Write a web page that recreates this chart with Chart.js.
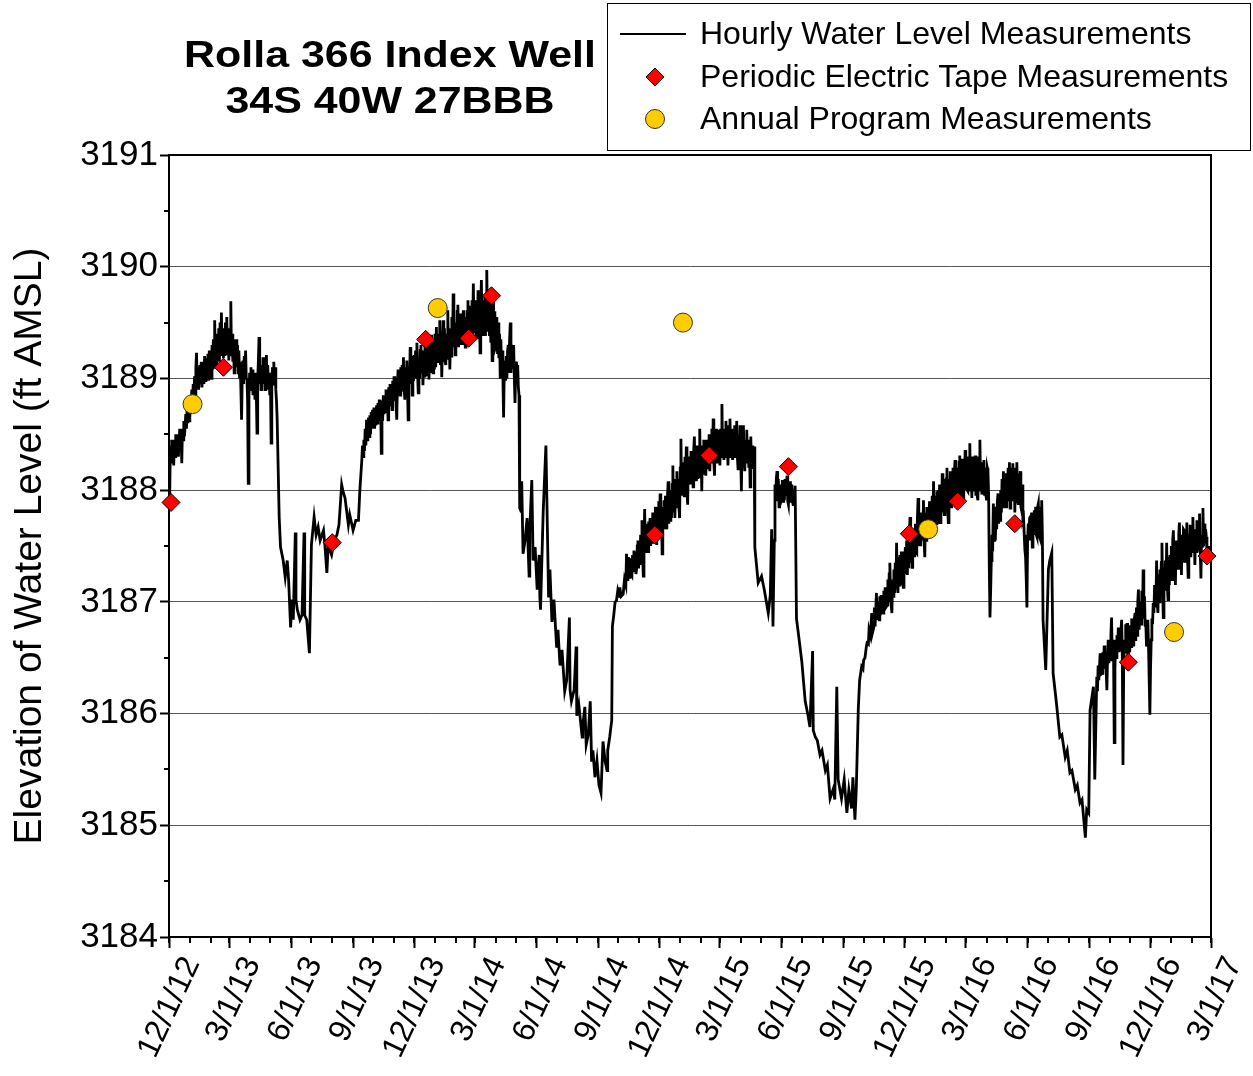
<!DOCTYPE html>
<html>
<head>
<meta charset="utf-8">
<title>Rolla 366 Index Well</title>
<script src="https://cdn.jsdelivr.net/npm/chart.js@4.4.1/dist/chart.umd.min.js"></script>
<style>
  html, body { margin: 0; padding: 0; background: #fff; }
  canvas { display: block; }
</style>
</head>
<body>
<canvas id="wellChart" width="1253" height="1076"></canvas>
<script>
const FONT = "'Liberation Sans', Arial, Helvetica, sans-serif";

const titleLines = ['Rolla 366 Index Well', '34S 40W 27BBB'];

// quarterly labels on the date axis
const tickLabels = [
  '12/1/12', '3/1/13', '6/1/13', '9/1/13', '12/1/13', '3/1/14', '6/1/14', '9/1/14',
  '12/1/14', '3/1/15', '6/1/15', '9/1/15', '12/1/15', '3/1/16', '6/1/16', '9/1/16',
  '12/1/16', '3/1/17'
];

// hourly logger record, thinned: [days since 12/1/12, level ft]
const hourlyRecord = [
  // winter 2012-13
  [1, 3187.91], [2, 3188.40], [3, 3188.25], [4, 3188.45], [5, 3188.28], [6, 3188.40], [7, 3188.22], [8, 3188.45],
  [9, 3188.30], [10, 3188.50], [12, 3188.32], [13, 3188.50], [14, 3188.30], [16, 3188.55], [17, 3188.38], [18, 3188.55],
  [19, 3188.24], [20, 3188.55], [21, 3188.45], [22, 3188.62], [23, 3188.48], [25, 3188.68], [26, 3188.55], [27, 3188.75],
  [28, 3188.60], [29, 3188.78], [30, 3188.62], [31, 3188.82], [32, 3188.68], [34, 3188.90], [35, 3188.75], [36, 3188.95],
  [37, 3188.80], [38, 3189.02], [39, 3188.85], [40, 3189.10], [41, 3189.23], [42, 3188.92], [43, 3189.10], [44, 3188.90],
  [46, 3189.12], [47, 3188.95], [48, 3189.15], [49, 3188.92], [51, 3189.10], [52, 3188.95], [53, 3189.20], [54, 3188.98],
  [55, 3189.18], [56, 3189.00], [58, 3189.22], [59, 3188.98], [60, 3189.25], [61, 3189.05], [62, 3189.22], [63, 3189.00],
  [64, 3189.30], [65, 3189.08], [66, 3189.35], [67, 3189.10], [68, 3189.52], [69, 3189.15], [70, 3189.40], [71, 3189.10],
  [72, 3189.40], [73, 3189.18], [74, 3189.45], [75, 3189.15], [76, 3189.50], [77, 3189.20], [78, 3189.59], [79, 3189.22],
  [80, 3189.45], [81, 3189.18], [82, 3189.42], [83, 3189.20], [84, 3189.50], [85, 3189.22], [86, 3189.55], [87, 3189.25],
  [88, 3189.45], [89, 3189.16], [90, 3189.45], [91, 3189.25], [92, 3189.69], [93, 3189.20], [94, 3189.40], [95, 3189.15],
  [96, 3189.35], [97, 3189.05], [98, 3189.30], [99, 3189.10], [100, 3189.35], [101, 3189.20], [102, 3189.30], [103, 3189.05],
  [104, 3189.25], [105, 3189.00], [106, 3189.15], [107, 3188.90], [108, 3188.63], [109, 3189.00], [110, 3189.16], [111, 3188.95],
  [112, 3189.20], [113, 3189.00], [114, 3189.25], [115, 3189.00], [116, 3188.99], [117, 3188.80], [118, 3188.06], [119, 3188.85],
  [120, 3189.05], [121, 3188.90], [122, 3189.10], [123, 3188.90], [124, 3189.08], [125, 3188.85], [127, 3189.00], [128, 3188.81],
  [129, 3189.05], [130, 3188.85], [131, 3188.51], [132, 3188.99], [133, 3189.15], [134, 3189.37], [135, 3188.95], [136, 3189.10],
  [137, 3188.90], [138, 3189.12], [139, 3188.95], [140, 3189.19], [141, 3188.95], [142, 3189.10], [143, 3188.90], [144, 3189.10],
  [145, 3189.21], [146, 3188.95], [147, 3189.12], [148, 3188.90], [149, 3189.05], [150, 3188.85], [151, 3189.00], [152, 3188.42],
  [153, 3188.95], [154, 3189.10], [155, 3188.95], [156, 3189.15], [157, 3188.95], [158, 3189.10], [159, 3188.90], [160, 3188.80],
  [161, 3188.63],
  // summer 2013
  [164, 3187.76], [166, 3187.49], [170, 3187.37], [173, 3187.22], [176, 3187.37], [178, 3187.20], [181, 3186.77], [183, 3187.02],
  [185, 3186.84], [188, 3187.62], [189, 3187.02], [191, 3186.93], [195, 3186.84], [198, 3186.88], [201, 3187.62], [202, 3186.88],
  [205, 3186.84], [209, 3186.54], [212, 3187.51], [216, 3187.76], [219, 3187.60], [222, 3187.67], [225, 3187.55], [230, 3187.64],
  [232, 3187.51], [235, 3187.26], [237, 3187.51], [242, 3187.42], [246, 3187.55], [250, 3187.60], [253, 3187.69], [257, 3188.05],
  [259, 3187.99], [262, 3187.93], [267, 3187.69], [269, 3187.78], [274, 3187.64], [278, 3187.73], [282, 3187.73], [284, 3187.99],
  // winter 2013-14
  [287, 3188.27], [288, 3188.40], [289, 3188.30], [290, 3188.45], [291, 3188.35], [292, 3188.55], [293, 3188.40], [294, 3188.63],
  [295, 3188.45], [296, 3188.51], [297, 3188.65], [298, 3188.48], [299, 3188.67], [300, 3188.50], [301, 3188.70], [302, 3188.55],
  [303, 3188.72], [304, 3188.60], [305, 3188.74], [306, 3188.55], [307, 3188.70], [308, 3188.58], [309, 3188.76], [310, 3188.60],
  [311, 3188.78], [312, 3188.62], [313, 3188.81], [314, 3188.65], [315, 3188.80], [316, 3188.33], [317, 3188.75], [318, 3188.62],
  [319, 3188.85], [320, 3188.68], [321, 3188.85], [322, 3188.70], [323, 3188.90], [324, 3188.72], [325, 3188.88], [326, 3188.63],
  [327, 3188.92], [328, 3188.75], [329, 3188.95], [330, 3188.78], [331, 3188.92], [332, 3188.72], [333, 3188.98], [334, 3188.80],
  [335, 3189.02], [336, 3188.82], [337, 3189.00], [338, 3188.78], [339, 3188.63], [340, 3188.95], [341, 3189.08], [342, 3188.85],
  [343, 3189.05], [344, 3188.85], [345, 3189.10], [346, 3188.88], [347, 3189.12], [348, 3188.90], [349, 3189.19], [350, 3188.92],
  [351, 3188.81], [352, 3189.10], [353, 3188.95], [354, 3189.16], [355, 3188.92], [356, 3188.63], [357, 3189.05], [358, 3188.95],
  [359, 3189.28], [360, 3188.98], [361, 3189.20], [362, 3188.85], [363, 3189.15], [364, 3188.98], [365, 3189.21], [366, 3189.00],
  [367, 3189.25], [368, 3189.02], [369, 3189.32], [370, 3189.05], [371, 3188.87], [372, 3189.15], [373, 3189.00], [374, 3189.25],
  [375, 3189.30], [376, 3189.05], [377, 3189.25], [378, 3188.94], [379, 3189.20], [380, 3189.02], [381, 3189.30], [382, 3189.05],
  [383, 3189.28], [384, 3189.34], [385, 3189.02], [386, 3189.30], [387, 3188.99], [388, 3189.25], [389, 3189.05], [390, 3189.39],
  [391, 3189.05], [392, 3189.30], [393, 3189.05], [394, 3189.35], [395, 3189.08], [396, 3189.40], [397, 3189.10], [398, 3189.46],
  [399, 3189.15], [400, 3189.16], [401, 3189.40], [402, 3189.15], [403, 3189.52], [404, 3189.12], [405, 3189.35], [406, 3189.01],
  [407, 3189.30], [408, 3189.52], [409, 3189.15], [410, 3189.45], [411, 3189.15], [412, 3189.12], [413, 3189.40], [414, 3189.18],
  [415, 3189.61], [416, 3189.22], [417, 3189.45], [418, 3189.08], [419, 3189.40], [420, 3189.20], [421, 3189.55], [422, 3189.28],
  [423, 3189.76], [424, 3189.28], [425, 3189.50], [426, 3189.21], [427, 3189.50], [428, 3189.28], [429, 3189.60], [430, 3189.66],
  [431, 3189.28], [432, 3189.55], [433, 3189.30], [434, 3189.58], [435, 3189.32], [436, 3189.55], [437, 3189.30], [438, 3189.61],
  [439, 3189.32], [440, 3189.50], [441, 3189.28], [442, 3189.55], [443, 3189.32], [444, 3189.60], [445, 3189.70], [446, 3189.35],
  [447, 3189.60], [448, 3189.39], [449, 3189.65], [450, 3189.38], [451, 3189.70], [452, 3189.40], [453, 3189.85], [454, 3189.42],
  [455, 3189.46], [456, 3189.70], [457, 3189.38], [458, 3189.65], [459, 3189.35], [460, 3189.79], [461, 3189.38], [462, 3189.60],
  [463, 3189.23], [464, 3189.65], [465, 3189.88], [466, 3189.42], [467, 3189.70], [468, 3189.38], [469, 3189.52], [470, 3189.75],
  [471, 3189.38], [472, 3189.70], [473, 3189.97], [474, 3189.48], [475, 3189.43], [476, 3189.70], [477, 3189.38], [478, 3189.76],
  [479, 3189.32], [480, 3189.60], [481, 3189.16], [482, 3189.55], [483, 3189.70], [484, 3189.32], [485, 3189.60], [486, 3189.28],
  [487, 3189.30], [488, 3189.55], [489, 3189.22], [490, 3189.50], [491, 3189.18], [492, 3189.40], [493, 3189.01], [494, 3189.35],
  [495, 3189.08], [496, 3189.25], [497, 3189.02], [498, 3188.65], [499, 3189.05], [500, 3189.16], [501, 3188.98], [502, 3189.20],
  [503, 3189.00], [504, 3189.25], [505, 3189.30], [506, 3189.05], [507, 3189.35], [508, 3189.50], [509, 3189.05], [510, 3189.30],
  [511, 3189.10], [512, 3189.25], [513, 3189.30], [514, 3189.00], [515, 3188.78], [516, 3189.05], [517, 3189.15], [518, 3189.08],
  [519, 3189.12], [520, 3188.92], [521, 3188.85], [522, 3187.84],
  // summer 2014
  [524, 3187.81], [525, 3188.08], [527, 3187.43], [530, 3187.55], [533, 3187.75], [536, 3187.23], [537, 3187.64], [540, 3188.09],
  [542, 3187.37], [545, 3187.49], [548, 3187.11], [551, 3187.42], [552, 3187.04], [553, 3186.93], [557, 3187.81], [561, 3188.40],
  [563, 3187.73], [565, 3187.04], [567, 3187.29], [570, 3186.82], [573, 3187.02], [577, 3186.59], [579, 3186.75], [582, 3186.43],
  [585, 3186.57], [589, 3186.20], [592, 3186.30], [596, 3186.86], [597, 3186.21], [599, 3186.11], [603, 3186.21], [606, 3186.60],
  [607, 3185.98], [610, 3186.08], [615, 3185.79], [616, 3185.90], [619, 3186.06], [621, 3185.72], [624, 3185.81], [627, 3186.11],
  [629, 3185.57], [631, 3185.67], [634, 3185.43], [637, 3185.58], [640, 3185.36], [643, 3185.29], [646, 3185.75], [649, 3185.58],
  [652, 3185.49], [653, 3185.67], [656, 3185.79], [659, 3185.94],
  // winter 2014-15
  [660, 3186.78], [662, 3186.88], [664, 3187.00], [666, 3187.01], [668, 3187.10], [670, 3187.05], [671, 3187.13], [673, 3187.05],
  [676, 3187.07], [678, 3187.20], [680, 3187.15], [681, 3187.43], [682, 3187.20], [683, 3187.29], [684, 3187.40], [685, 3187.22],
  [686, 3187.39], [687, 3187.25], [689, 3187.23], [690, 3187.42], [691, 3187.28], [692, 3187.46], [693, 3187.30], [694, 3187.45],
  [695, 3187.25], [696, 3187.29], [697, 3187.50], [698, 3187.55], [699, 3187.30], [700, 3187.50], [701, 3187.33], [702, 3187.60],
  [703, 3187.38], [704, 3187.73], [705, 3187.40], [706, 3187.23], [707, 3187.55], [708, 3187.83], [709, 3187.45], [710, 3187.70],
  [711, 3187.46], [712, 3187.68], [713, 3187.45], [714, 3187.72], [715, 3187.50], [716, 3187.75], [717, 3187.50], [718, 3187.70],
  [719, 3187.55], [720, 3187.80], [721, 3187.52], [722, 3187.75], [723, 3187.55], [724, 3187.85], [725, 3187.55], [726, 3187.51],
  [727, 3187.85], [728, 3187.60], [729, 3187.90], [730, 3187.62], [731, 3187.97], [732, 3187.60], [733, 3187.85], [734, 3187.43],
  [735, 3187.80], [736, 3187.65], [737, 3187.91], [738, 3187.65], [739, 3187.95], [740, 3187.68], [741, 3187.65], [742, 3187.95],
  [743, 3188.08], [744, 3187.70], [745, 3187.95], [746, 3187.73], [747, 3188.00], [748, 3187.75], [749, 3188.05], [750, 3188.22],
  [751, 3187.80], [752, 3188.05], [753, 3187.75], [754, 3188.10], [755, 3187.85], [756, 3188.17], [757, 3187.85], [758, 3188.10],
  [759, 3187.85], [760, 3187.75], [761, 3188.20], [762, 3188.46], [763, 3187.95], [764, 3188.25], [765, 3187.99], [766, 3188.25],
  [767, 3187.95], [768, 3188.30], [769, 3188.00], [770, 3188.39], [771, 3188.00], [772, 3187.87], [773, 3188.30], [774, 3188.05],
  [775, 3188.27], [776, 3188.05], [777, 3188.35], [778, 3188.05], [779, 3188.30], [780, 3188.03], [781, 3188.35], [782, 3188.48],
  [783, 3188.10], [784, 3188.35], [785, 3188.08], [786, 3188.40], [787, 3188.10], [788, 3188.40], [789, 3188.12], [790, 3188.55],
  [791, 3188.15], [792, 3188.40], [793, 3187.99], [794, 3188.35], [795, 3188.15], [796, 3188.45], [797, 3188.15], [798, 3188.40],
  [799, 3188.13], [800, 3188.45], [801, 3188.20], [802, 3188.45], [803, 3188.20], [804, 3188.50], [805, 3188.17], [806, 3188.50],
  [807, 3188.25], [808, 3188.55], [809, 3188.25], [810, 3188.64], [811, 3188.25], [812, 3188.13], [813, 3188.50], [814, 3188.28],
  [815, 3188.55], [816, 3188.25], [817, 3188.54], [818, 3188.30], [819, 3188.50], [820, 3188.22], [821, 3188.55], [822, 3188.30],
  [823, 3188.77], [824, 3188.35], [825, 3188.55], [826, 3188.27], [827, 3188.55], [828, 3188.30], [829, 3188.62], [830, 3188.30],
  [831, 3188.58], [832, 3188.22], [833, 3188.55], [834, 3188.30], [835, 3188.64], [836, 3188.30], [837, 3188.55], [838, 3188.35],
  [839, 3188.27], [840, 3188.55], [841, 3188.30], [842, 3188.58], [843, 3188.32], [844, 3188.50], [845, 3188.62], [846, 3188.30],
  [847, 3188.19], [848, 3188.50], [849, 3188.30], [850, 3188.58], [851, 3188.30], [852, 3187.99], [853, 3188.45], [854, 3188.30],
  [855, 3188.58], [856, 3188.30], [857, 3188.17], [858, 3188.45], [859, 3188.25], [860, 3188.54], [861, 3188.25], [862, 3188.45],
  [863, 3188.20], [864, 3188.40], [865, 3188.03], [866, 3188.48], [867, 3188.20], [868, 3188.40], [869, 3188.25], [870, 3188.19],
  [871, 3188.39], [872, 3187.49],
  // summer 2015
  [877, 3187.17], [882, 3187.23], [886, 3187.11], [890, 3186.97], [892, 3186.90], [895, 3187.06], [897, 3187.65], [899, 3186.78],
  [901, 3187.55], [902, 3188.05], [903, 3187.90], [904, 3188.10], [905, 3188.17], [906, 3187.90], [907, 3188.10], [908, 3187.85],
  [909, 3188.05], [910, 3187.87], [911, 3188.05], [912, 3187.90], [913, 3188.09], [914, 3187.90], [915, 3188.05], [916, 3187.91],
  [917, 3188.10], [918, 3187.95], [919, 3188.05], [920, 3188.13], [921, 3187.90], [922, 3187.87], [923, 3188.05], [924, 3187.90],
  [925, 3188.08], [926, 3187.90], [927, 3188.05], [928, 3187.90], [929, 3187.87], [930, 3188.00], [931, 3187.90], [932, 3188.04],
  [934, 3186.85], [938, 3186.66], [942, 3186.46], [947, 3186.11], [951, 3185.99], [954, 3185.88], [958, 3186.56], [959, 3185.85],
  [962, 3185.79], [965, 3185.76], [969, 3185.63], [972, 3185.67], [977, 3185.49], [980, 3185.54], [984, 3185.24], [989, 3185.33],
  [991, 3185.23], [994, 3186.24], [996, 3185.41], [1001, 3185.24], [1005, 3185.41], [1009, 3185.11], [1012, 3185.32], [1016, 3185.15],
  [1018, 3185.43], [1021, 3185.05], [1023, 3185.32],
  // winter 2015-16
  [1026, 3186.04], [1028, 3186.30], [1031, 3186.42], [1033, 3186.40], [1034, 3186.48], [1036, 3186.50], [1038, 3186.60], [1039, 3186.63],
  [1041, 3186.62], [1042, 3186.75], [1044, 3186.70], [1046, 3186.90], [1047, 3186.72], [1049, 3186.77], [1050, 3186.95], [1051, 3186.78],
  [1053, 3187.08], [1054, 3186.85], [1055, 3187.00], [1057, 3186.84], [1058, 3187.05], [1059, 3186.88], [1060, 3187.06], [1061, 3186.92],
  [1063, 3186.90], [1064, 3187.10], [1065, 3186.95], [1066, 3187.13], [1067, 3186.95], [1069, 3186.97], [1070, 3187.20], [1071, 3187.00],
  [1072, 3187.25], [1073, 3187.35], [1074, 3187.05], [1076, 3186.90], [1077, 3187.20], [1078, 3187.05], [1079, 3187.29], [1080, 3187.08],
  [1081, 3187.35], [1082, 3187.12], [1083, 3187.53], [1084, 3187.15], [1085, 3187.08], [1086, 3187.40], [1087, 3187.15], [1088, 3187.42],
  [1089, 3187.15], [1090, 3187.45], [1091, 3187.20], [1092, 3187.40], [1093, 3187.13], [1094, 3187.45], [1095, 3187.25], [1096, 3187.49],
  [1097, 3187.25], [1098, 3187.55], [1099, 3187.24], [1100, 3187.55], [1101, 3187.30], [1102, 3187.60], [1103, 3187.76], [1104, 3187.35],
  [1105, 3187.60], [1106, 3187.31], [1107, 3187.60], [1108, 3187.40], [1109, 3187.64], [1110, 3187.40], [1111, 3187.70], [1112, 3187.45],
  [1113, 3187.44], [1114, 3187.75], [1115, 3187.93], [1116, 3187.50], [1117, 3187.75], [1118, 3187.51], [1119, 3187.80], [1120, 3187.55],
  [1121, 3187.80], [1122, 3187.55], [1123, 3187.91], [1124, 3187.55], [1125, 3187.40], [1126, 3187.80], [1127, 3187.55], [1128, 3187.85],
  [1129, 3187.60], [1130, 3187.82], [1131, 3187.62], [1132, 3187.90], [1133, 3187.60], [1134, 3187.90], [1135, 3187.65], [1136, 3187.95],
  [1137, 3187.65], [1138, 3188.08], [1139, 3187.70], [1140, 3187.62], [1141, 3187.95], [1142, 3187.70], [1143, 3187.99], [1144, 3187.70],
  [1145, 3188.00], [1146, 3187.75], [1147, 3188.05], [1148, 3187.71], [1149, 3188.05], [1150, 3187.80], [1151, 3188.15], [1152, 3187.80],
  [1153, 3188.05], [1154, 3187.78], [1155, 3188.10], [1156, 3187.80], [1157, 3188.10], [1158, 3188.20], [1159, 3187.85], [1160, 3187.71],
  [1161, 3188.10], [1162, 3187.85], [1163, 3188.17], [1164, 3187.85], [1165, 3188.15], [1166, 3187.90], [1167, 3188.20], [1168, 3187.91],
  [1169, 3188.15], [1170, 3188.27], [1171, 3187.90], [1172, 3188.20], [1173, 3187.92], [1174, 3188.20], [1175, 3187.96], [1176, 3188.25],
  [1177, 3188.31], [1178, 3187.95], [1179, 3188.25], [1180, 3187.95], [1181, 3188.28], [1182, 3187.91], [1183, 3188.25], [1184, 3188.00],
  [1185, 3188.36], [1186, 3188.00], [1187, 3188.30], [1188, 3188.00], [1189, 3187.99], [1190, 3188.30], [1191, 3188.00], [1192, 3188.42],
  [1193, 3188.00], [1194, 3188.25], [1195, 3187.93], [1196, 3188.30], [1197, 3188.00], [1198, 3188.25], [1199, 3188.00], [1200, 3188.31],
  [1201, 3187.95], [1202, 3188.25], [1203, 3187.95], [1204, 3187.91], [1205, 3188.30], [1206, 3188.00], [1207, 3188.45], [1208, 3188.00],
  [1209, 3188.25], [1210, 3187.96], [1211, 3188.25], [1212, 3188.00], [1213, 3188.27], [1214, 3187.95], [1215, 3188.20], [1216, 3187.95],
  [1217, 3187.91], [1218, 3188.20], [1219, 3188.17], [1220, 3187.95], [1221, 3187.31], [1222, 3186.86], [1223, 3187.10], [1224, 3187.37],
  [1225, 3187.60], [1226, 3187.45], [1227, 3187.88], [1228, 3187.55], [1229, 3187.80], [1230, 3187.55], [1231, 3187.85], [1232, 3187.65],
  [1233, 3187.90], [1234, 3187.97], [1235, 3187.70], [1236, 3187.95], [1237, 3187.73], [1238, 3188.00], [1239, 3187.80], [1240, 3188.10],
  [1241, 3187.85], [1242, 3188.17], [1243, 3187.85], [1244, 3187.87], [1245, 3188.15], [1246, 3187.85], [1247, 3188.15], [1248, 3187.90],
  [1249, 3188.20], [1250, 3187.90], [1251, 3188.25], [1252, 3187.84], [1253, 3188.20], [1254, 3187.90], [1255, 3188.15], [1256, 3188.24],
  [1257, 3187.90], [1258, 3188.20], [1259, 3187.80], [1260, 3188.10], [1261, 3187.95], [1262, 3188.25], [1263, 3187.90], [1264, 3187.88],
  [1265, 3188.15], [1266, 3187.90], [1267, 3188.17], [1268, 3187.85], [1269, 3187.82], [1270, 3188.05], [1271, 3187.73], [1272, 3187.75],
  [1273, 3187.60], [1274, 3187.46], [1275, 3187.40], [1276, 3187.20], [1277, 3186.95], [1278, 3187.55], [1279, 3187.70], [1280, 3187.55],
  [1281, 3187.75], [1282, 3187.76], [1283, 3187.55], [1284, 3187.80], [1285, 3187.49], [1286, 3187.75], [1287, 3187.60], [1288, 3187.82],
  [1289, 3187.60], [1290, 3187.85], [1291, 3187.60], [1292, 3187.58], [1293, 3187.85], [1294, 3187.88], [1295, 3187.60], [1296, 3187.58],
  [1297, 3187.85], [1298, 3187.60], [1299, 3187.91], [1300, 3187.60], [1301, 3186.84],
  // summer 2016
  [1305, 3186.39], [1309, 3187.29], [1311, 3187.37], [1314, 3187.44], [1316, 3186.36], [1321, 3186.09], [1326, 3185.79], [1329, 3185.81],
  [1334, 3185.61], [1337, 3185.67], [1341, 3185.47], [1344, 3185.49], [1349, 3185.32], [1352, 3185.36], [1356, 3185.20], [1359, 3185.23],
  [1364, 3184.89], [1366, 3185.14], [1369, 3185.11], [1371, 3186.03], [1376, 3186.24], [1378, 3185.41],
  // winter 2016-17
  [1381, 3186.33], [1382, 3186.20], [1383, 3186.43], [1384, 3186.30], [1386, 3186.54], [1387, 3186.35], [1389, 3186.36], [1390, 3186.55],
  [1391, 3186.40], [1392, 3186.61], [1393, 3186.40], [1394, 3186.55], [1396, 3186.21], [1397, 3186.50], [1398, 3186.66], [1399, 3186.45],
  [1400, 3186.60], [1401, 3186.48], [1402, 3186.70], [1403, 3186.86], [1404, 3186.50], [1405, 3186.66], [1406, 3186.50], [1407, 3185.74],
  [1408, 3186.40], [1409, 3186.66], [1410, 3186.50], [1411, 3186.70], [1412, 3186.55], [1413, 3186.77], [1414, 3186.55], [1415, 3186.75],
  [1416, 3186.57], [1417, 3186.75], [1418, 3186.84], [1419, 3186.50], [1420, 3185.54], [1421, 3186.40], [1422, 3186.66], [1423, 3186.55],
  [1424, 3186.80], [1425, 3186.55], [1426, 3186.81], [1427, 3186.55], [1428, 3186.48], [1429, 3186.75], [1430, 3186.55], [1431, 3186.79],
  [1432, 3186.60], [1433, 3186.85], [1434, 3186.60], [1435, 3186.85], [1436, 3186.60], [1437, 3186.85], [1438, 3186.90], [1439, 3186.65],
  [1440, 3186.95], [1441, 3186.70], [1442, 3187.00], [1443, 3187.11], [1444, 3186.75], [1445, 3186.75], [1446, 3187.00], [1447, 3186.80],
  [1448, 3187.10], [1449, 3186.85], [1450, 3187.29], [1451, 3186.85], [1452, 3187.05], [1453, 3186.79], [1454, 3186.80], [1455, 3186.60],
  [1456, 3186.70], [1457, 3186.84], [1458, 3186.60], [1459, 3186.30], [1460, 3185.99], [1461, 3186.40], [1462, 3186.66], [1463, 3186.85],
  [1464, 3186.80], [1465, 3186.99], [1466, 3186.90], [1467, 3187.15], [1468, 3187.11], [1469, 3186.95], [1470, 3187.37], [1471, 3187.00],
  [1472, 3186.90], [1473, 3187.25], [1474, 3187.00], [1475, 3187.29], [1476, 3187.05], [1477, 3187.35], [1478, 3187.53], [1479, 3187.10],
  [1480, 3186.86], [1481, 3187.30], [1482, 3187.10], [1483, 3187.37], [1484, 3187.10], [1485, 3187.53], [1486, 3187.15], [1487, 3187.02],
  [1488, 3187.40], [1489, 3187.15], [1490, 3187.42], [1491, 3187.20], [1492, 3187.50], [1493, 3187.20], [1494, 3187.55], [1495, 3187.64],
  [1496, 3187.25], [1497, 3187.55], [1498, 3187.15], [1499, 3187.50], [1500, 3187.30], [1501, 3187.55], [1502, 3187.30], [1503, 3187.60],
  [1504, 3187.71], [1505, 3187.35], [1506, 3187.60], [1507, 3187.24], [1508, 3187.60], [1509, 3187.35], [1510, 3187.65], [1511, 3187.64],
  [1512, 3187.35], [1513, 3187.65], [1514, 3187.40], [1515, 3187.71], [1516, 3187.40], [1517, 3187.22], [1518, 3187.60], [1519, 3187.40],
  [1520, 3187.69], [1521, 3187.40], [1522, 3187.65], [1523, 3187.45], [1524, 3187.76], [1525, 3187.45], [1526, 3187.65], [1527, 3187.33],
  [1528, 3187.65], [1529, 3187.45], [1530, 3187.73], [1531, 3187.45], [1532, 3187.70], [1533, 3187.45], [1534, 3187.79], [1535, 3187.45],
  [1536, 3187.21], [1537, 3187.60], [1538, 3187.50], [1539, 3187.84], [1540, 3187.50], [1541, 3187.70], [1542, 3187.55], [1543, 3187.65],
  [1544, 3187.58], [1545, 3187.45], [1546, 3187.37], [1547, 3187.50], [1548, 3187.40], [1549, 3187.46]
];

// periodic electric tape measurements
const tapeDates = [
  '12/4/12', '2/20/13', '8/1/13', '12/18/13', '2/20/14', '3/26/14', '11/24/14',
  '2/13/15', '6/11/15', '12/8/15', '2/18/16', '5/13/16', '10/29/16', '2/23/17'
];
const tapeLevels = [
  3187.89, 3189.10, 3187.53, 3189.35, 3189.36, 3189.74, 3187.60,
  3188.31, 3188.21, 3187.61, 3187.90, 3187.70, 3186.46, 3187.41
];

// annual program measurements
const annualDates = ['1/5/13', '1/5/14', '1/5/15', '1/5/16', '1/5/17'];
const annualLevels = [3188.77, 3189.63, 3189.50, 3187.65, 3186.73];

const START = Date.UTC(2012, 11, 1);
function dayOf(str) {
  const [m, d, y] = str.split('/').map(Number);
  return Math.round((Date.UTC(2000 + y, m - 1, d) - START) / 86400000);
}

const quarterDays = tickLabels.map(dayOf);
const labelFor = new Map(quarterDays.map((d, i) => [d, tickLabels[i]]));
const lastDay = quarterDays[quarterDays.length - 1];

// monthly minor ticks
const monthDays = [];
for (let k = 0; ; k++) {
  const d = Math.round((Date.UTC(2012, 11 + k, 1) - START) / 86400000);
  if (d > lastDay) break;
  monthDays.push(d);
}

const RED = '#ff0000';
const GOLD = '#ffcc00';

const frame = {
  id: 'frame',
  beforeDatasetsDraw(chart) {
    const { ctx, chartArea: a, scales: { x, y } } = chart;
    ctx.save();
    ctx.strokeStyle = '#000';
    ctx.lineWidth = 2;
    ctx.beginPath();
    monthDays.forEach(d => {
      const px = Math.round(x.getPixelForValue(d));
      ctx.moveTo(px, a.bottom);
      ctx.lineTo(px, a.bottom + 6);
    });
    for (let v = 3184.5; v < 3191; v += 1) {
      const py = Math.round(y.getPixelForValue(v));
      ctx.moveTo(a.left, py);
      ctx.lineTo(a.left - 5, py);
    }
    ctx.stroke();
    ctx.strokeRect(a.left, a.top, a.right - a.left, a.bottom - a.top);
    ctx.restore();
  }
};

const titleAndLegend = {
  id: 'titleAndLegend',
  afterDraw(chart) {
    const ctx = chart.ctx;
    ctx.save();
    ctx.fillStyle = '#000';
    ctx.font = 'bold 37px ' + FONT;
    ctx.textAlign = 'center';
    ctx.textBaseline = 'alphabetic';
    titleLines.forEach((t, i) => {
      ctx.save();
      ctx.translate(390, 67 + i * 46);
      ctx.scale(1.16, 1);
      ctx.fillText(t, 0, 0);
      ctx.restore();
    });

    // legend box
    ctx.fillStyle = '#fff';
    ctx.fillRect(607, 3, 643, 147);
    ctx.strokeStyle = '#000';
    ctx.lineWidth = 1;
    ctx.strokeRect(607.5, 3.5, 643, 147);

    const rows = [34, 77, 119];
    ctx.lineWidth = 2;
    ctx.beginPath();
    ctx.moveTo(620, rows[0]);
    ctx.lineTo(686, rows[0]);
    ctx.stroke();

    ctx.lineWidth = 1;
    ctx.fillStyle = RED;
    ctx.beginPath();
    ctx.moveTo(655 - 9, rows[1]);
    ctx.lineTo(655, rows[1] - 9);
    ctx.lineTo(655 + 9, rows[1]);
    ctx.lineTo(655, rows[1] + 9);
    ctx.closePath();
    ctx.fill();
    ctx.stroke();

    ctx.fillStyle = GOLD;
    ctx.strokeStyle = '#333';
    ctx.beginPath();
    ctx.arc(655, rows[2], 9.5, 0, Math.PI * 2);
    ctx.fill();
    ctx.stroke();

    ctx.fillStyle = '#000';
    ctx.font = '32px ' + FONT;
    ctx.textAlign = 'left';
    ctx.textBaseline = 'middle';
    chart.data.datasets.slice().reverse().forEach((ds, i) => {
      ctx.fillText(ds.label, 700, rows[i] + 1);
    });
    ctx.restore();
  }
};

const ctx = document.getElementById('wellChart').getContext('2d');

new Chart(ctx, {
  type: 'scatter',
  data: {
    datasets: [
      {
        label: 'Annual Program Measurements',
        data: annualDates.map((d, i) => ({ x: dayOf(d), y: annualLevels[i] })),
        pointStyle: 'circle',
        pointRadius: 9.5,
        pointBackgroundColor: GOLD,
        pointBorderColor: '#333',
        pointBorderWidth: 1,
        clip: false,
        order: 0
      },
      {
        label: 'Periodic Electric Tape Measurements',
        data: tapeDates.map((d, i) => ({ x: dayOf(d), y: tapeLevels[i] })),
        pointStyle: 'rectRot',
        pointRadius: 9,
        pointBackgroundColor: RED,
        pointBorderColor: '#000',
        pointBorderWidth: 1,
        clip: false,
        order: 1
      },
      {
        label: 'Hourly Water Level Measurements',
        data: hourlyRecord.map(r => ({ x: r[0], y: r[1] })),
        showLine: true,
        borderColor: '#000',
        borderWidth: 2.8,
        pointRadius: 0,
        tension: 0,
        order: 2
      }
    ]
  },
  options: {
    responsive: false,
    animation: false,
    layout: { padding: { top: 155, right: 42, left: 0, bottom: 0 } },
    plugins: {
      legend: { display: false },
      title: { display: false },
      tooltip: { enabled: false }
    },
    scales: {
      x: {
        type: 'linear',
        min: 0,
        max: lastDay,
        afterBuildTicks: s => { s.ticks = quarterDays.map(v => ({ value: v })); },
        afterFit: s => { s.height = 139; },
        grid: { drawOnChartArea: false, drawTicks: true, tickLength: 11, tickWidth: 2, tickColor: '#000' },
        border: { display: true, color: '#000', width: 2 },
        ticks: {
          autoSkip: false,
          minRotation: 65,
          maxRotation: 65,
          padding: 3,
          labelOffset: 23,
          color: '#000',
          font: { family: FONT, size: 32 },
          callback: v => labelFor.get(Math.round(v)) || ''
        }
      },
      y: {
        min: 3184,
        max: 3191,
        afterFit: s => { s.width = 169; },
        ticks: {
          stepSize: 1,
          padding: 2,
          color: '#000',
          font: { family: FONT, size: 35 },
          callback: v => String(v)
        },
        grid: { color: '#555', lineWidth: 1, tickLength: 9, tickWidth: 2, tickColor: '#000' },
        border: { display: true, color: '#000', width: 2 },
        title: {
          display: true,
          text: 'Elevation of Water Level (ft AMSL)',
          color: '#000',
          font: { family: FONT, size: 39 },
          padding: { top: 7, bottom: 0 }
        }
      }
    }
  },
  plugins: [frame, titleAndLegend]
});
</script>
</body>
</html>
